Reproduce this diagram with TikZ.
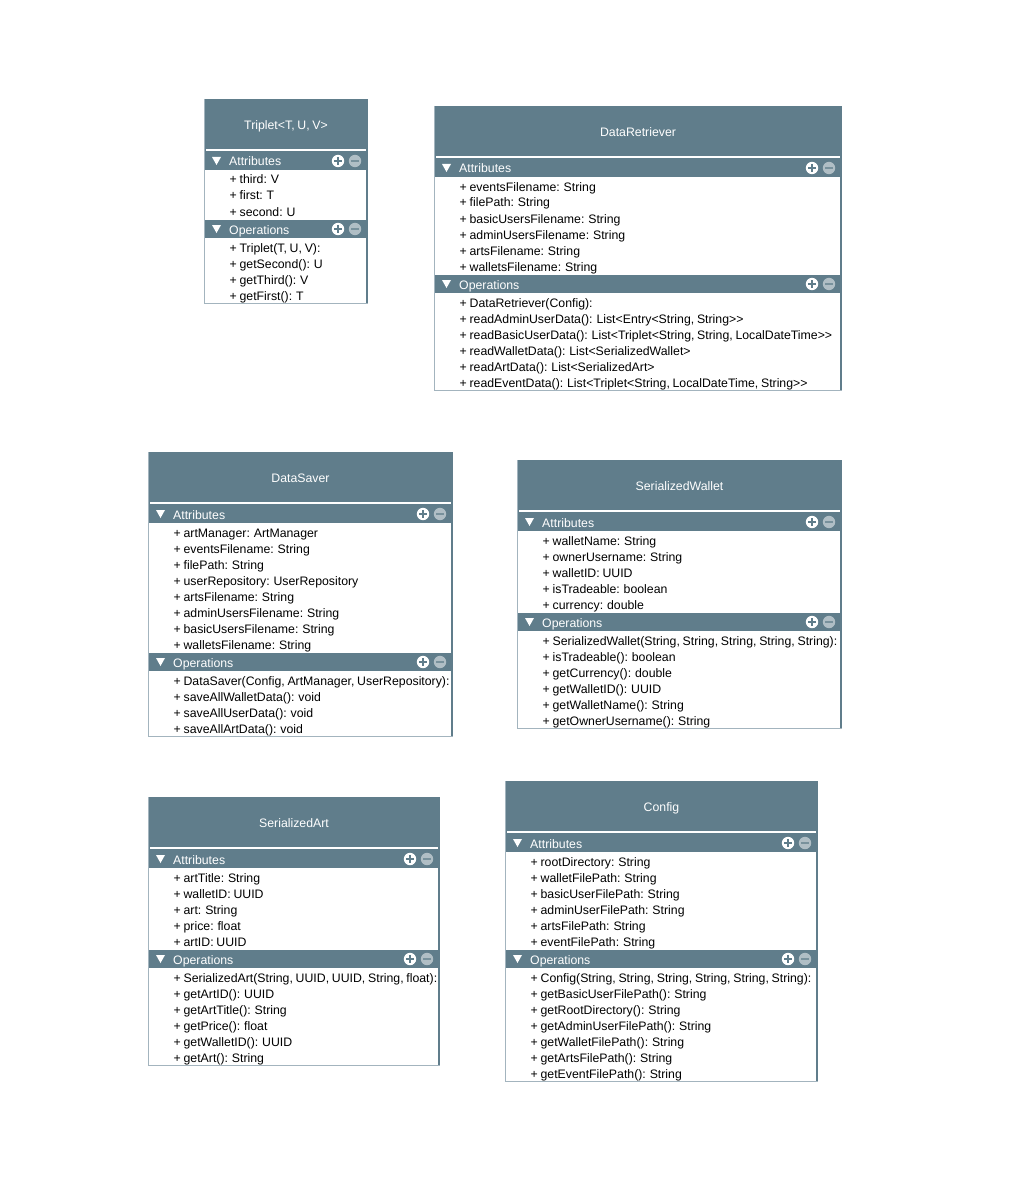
\documentclass[tikz,border=0pt]{standalone}
\usepackage{fontspec}
\setmainfont{Liberation Sans}[Ligatures=TeXOff,WordSpace=0.8]
\definecolor{slate}{HTML}{607D8B}
\definecolor{edgegray}{HTML}{A3B4BE}
\definecolor{minusgray}{HTML}{B0BEC5}
\tikzset{
  txt/.style={inner sep=0pt, font=\fontsize{12.3}{14}\selectfont},
  titletext/.style={txt, text=white, anchor=base},
  bartext/.style={txt, text=white, anchor=base west},
  itemtext/.style={txt, text=black, anchor=base west},
}
\newcommand\umlbox[7]{%
  \foreach \t [count=\i] in {#6} {\xdef\na{\i}}%
  \foreach \t [count=\i] in {#7} {\xdef\no{\i}}%
  \pgfmathsetmacro\ya{#4+62}%
  \pgfmathsetmacro\yo{\ya+36+16*(\na-1)}%
  \pgfmathsetmacro\yb{\yo+27+16*(\no-1)}%
  \fill[slate] (#2,#4) rectangle (#3,\yb);
  \fill[white] (#2+2,#4+50) rectangle (#3-2,#4+52);
  \fill[white] (#2+1,\ya+9) rectangle (#3-2,\yo-9);
  \fill[white] (#2+1,\yo+9) rectangle (#3-2,\yb-1);
  \draw[edgegray, line width=1pt] (#2+0.5,#4) -- (#2+0.5,\yb-0.5) -- (#3,\yb-0.5);
  \node[titletext] (#1-title) at ({(#2+#3)/2},#4+30.8) {#5};
  \foreach \yc/\lab in {\ya/Attributes,\yo/Operations}{
    \fill[white] (#2+8,\yc-4) -- (#2+17,\yc-4) -- (#2+12.5,\yc+4) -- cycle;
    \node[bartext] (#1-\lab) at (#2+25,\yc+5) {\lab};
    \fill[white] (#3-30,\yc) circle (6.2pt);
    \draw[slate, line width=1.8pt] (#3-34,\yc) -- (#3-26,\yc) (#3-30,\yc-4) -- (#3-30,\yc+4);
    \fill[minusgray] (#3-13,\yc) circle (6.2pt);
    \draw[slate!70!minusgray, line width=1.8pt] (#3-17,\yc) -- (#3-9,\yc);
  }
  \foreach \t [count=\i] in {#6}{
    \pgfmathsetmacro\yy{\ya+18+16*(\i-1)}
    \node[itemtext] (#1-a\i) at (#2+25.5,\yy+5) {\t};
  }
  \foreach \t [count=\i] in {#7}{
    \pgfmathsetmacro\yy{\yo+18+16*(\i-1)}
    \node[itemtext] (#1-o\i) at (#2+25.5,\yy+5) {\t};
  }
}
\begin{document}
\begin{tikzpicture}[x=1pt,y=-1pt]
\fill[white] (0,0) rectangle (1016,1193);
\useasboundingbox (0,0) rectangle (1016,1193);

\umlbox{triplet}{204}{368}{99}{Triplet<T, U, V>}
  {{+ third: V},{+ first: T},{+ second: U}}
  {{+ Triplet(T, U, V):},{+ getSecond(): U},{+ getThird(): V},{+ getFirst(): T}}

\umlbox{retriever}{434}{842}{106}{DataRetriever}
  {{+ eventsFilename: String},{+ filePath: String},{+ basicUsersFilename: String},{+ adminUsersFilename: String},{+ artsFilename: String},{+ walletsFilename: String}}
  {{+ DataRetriever(Config):},{+ readAdminUserData(): List<Entry<String, String>>},{+ readBasicUserData(): List<Triplet<String, String, LocalDateTime>>},{+ readWalletData(): List<SerializedWallet>},{+ readArtData(): List<SerializedArt>},{+ readEventData(): List<Triplet<String, LocalDateTime, String>>}}

\umlbox{saver}{148}{453}{452}{DataSaver}
  {{+ artManager: ArtManager},{+ eventsFilename: String},{+ filePath: String},{+ userRepository: UserRepository},{+ artsFilename: String},{+ adminUsersFilename: String},{+ basicUsersFilename: String},{+ walletsFilename: String}}
  {{+ DataSaver(Config, ArtManager, UserRepository):},{+ saveAllWalletData(): void},{+ saveAllUserData(): void},{+ saveAllArtData(): void}}

\umlbox{wallet}{517}{842}{460}{SerializedWallet}
  {{+ walletName: String},{+ ownerUsername: String},{+ walletID: UUID},{+ isTradeable: boolean},{+ currency: double}}
  {{+ SerializedWallet(String, String, String, String, String):},{+ isTradeable(): boolean},{+ getCurrency(): double},{+ getWalletID(): UUID},{+ getWalletName(): String},{+ getOwnerUsername(): String}}

\umlbox{art}{148}{440}{797}{SerializedArt}
  {{+ artTitle: String},{+ walletID: UUID},{+ art: String},{+ price: float},{+ artID: UUID}}
  {{+ SerializedArt(String, UUID, UUID, String, float):},{+ getArtID(): UUID},{+ getArtTitle(): String},{+ getPrice(): float},{+ getWalletID(): UUID},{+ getArt(): String}}

\umlbox{config}{505}{818}{781}{Config}
  {{+ rootDirectory: String},{+ walletFilePath: String},{+ basicUserFilePath: String},{+ adminUserFilePath: String},{+ artsFilePath: String},{+ eventFilePath: String}}
  {{+ Config(String, String, String, String, String, String):},{+ getBasicUserFilePath(): String},{+ getRootDirectory(): String},{+ getAdminUserFilePath(): String},{+ getWalletFilePath(): String},{+ getArtsFilePath(): String},{+ getEventFilePath(): String}}
\end{tikzpicture}
\end{document}
